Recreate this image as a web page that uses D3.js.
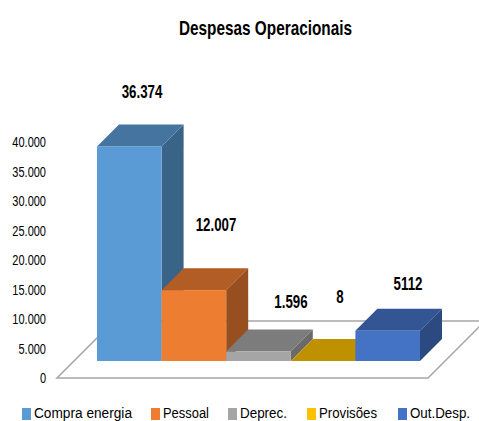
<!DOCTYPE html>
<html>
<head>
<meta charset="utf-8">
<script src="https://cdn.jsdelivr.net/npm/d3@7"></script>
<style>
    html, body { margin: 0; padding: 0; background: #fff; overflow: hidden; }
    svg { display: block; }
    text { font-family: "Liberation Sans", "Open Sans", sans-serif; fill: #000; }
</style>
</head>
<body>
<div id="chart"></div>
<script>
var categories = ['Compra energia', 'Pessoal', 'Deprec.', 'Provisões', 'Out.Desp.'];
var values = [36374, 12007, 1596, 8, 5112];
var valueLabels = ['36.374', '12.007', '1.596', '8', '5112'];
var yTicks = [0, 5000, 10000, 15000, 20000, 25000, 30000, 35000, 40000];
var frontColors = ['#5b9bd5', '#ed7d31', '#a5a5a5', '#ffc000', '#4472c4'];
var topColors = ['#44749f', '#b15d25', '#7c7c7c', '#bf9000', '#335593'];
var sideColors = ['#3a6388', '#974f1f', '#6a6a6a', '#a37b00', '#2b4a80'];

var width = 479;
var height = 421;
var depth = 22;       // 3d offset of the bars
var floorDrop = 16;   // floor front edge sits below the bar bases
var squeeze = 0.76;   // the original font is a lot narrower than what is installed

var svg = d3.select('#chart')
    .append('svg')
    .attr('width', width)
    .attr('height', height);

var x = d3.scaleBand().domain(categories).range([97, 420]);
var y = d3.scaleLinear().domain([0, 40000]).range([361, 125]);

// Title
svg.append('text')
    .text('Despesas Operacionais')
    .attr('x', 179)
    .attr('y', 35)
    .attr('textLength', 173)
    .attr('lengthAdjust', 'spacingAndGlyphs')
    .style('font-size', '20.5px')
    .style('font-weight', 'bold');

// Floor
var floorFront = y(0) + floorDrop + 1;
var floorBack = floorFront - 57;
svg.append('path')
    .attr('d', d3.line()([[57, floorFront], [428, floorFront], [485, floorBack], [114, floorBack]]) + 'Z')
    .attr('fill', '#fff')
    .attr('stroke', '#a6a6a6')
    .attr('stroke-width', 1.5);

// Axis
var axis = svg.append('g')
    .attr('transform', 'translate(46,' + (floorDrop + 1) + ')')
    .call(d3.axisLeft(y)
        .tickValues(yTicks)
        .tickSize(0)
        .tickPadding(0)
        .tickFormat((d) => d3.format(',')(d).replace(/,/g, '.')));
axis.select('.domain').remove();
axis.selectAll('text')
    .attr('transform', 'scale(' + squeeze + ',1)')
    .style('font-family', '"Liberation Sans", sans-serif')
    .style('font-size', '14.5px');

// Bars, left to right so each one covers the side of the previous
var bars = svg.selectAll('.bar')
    .data(categories)
    .enter()
    .append('g')
    .attr('class', 'bar');

bars.append('path')
    .attr('d', (d, i) => {
        var x1 = x(d) + x.bandwidth();
        return d3.line()([[x1, y(values[i])], [x1 + depth, y(values[i]) - depth], [x1 + depth, y(0) - depth], [x1, y(0)]]) + 'Z';
    })
    .attr('fill', (d, i) => sideColors[i]);

bars.append('path')
    .attr('d', (d, i) => {
        var x0 = x(d);
        var x1 = x0 + x.bandwidth();
        var t = y(values[i]);
        return d3.line()([[x0, t], [x1, t], [x1 + depth, t - depth], [x0 + depth, t - depth]]) + 'Z';
    })
    .attr('fill', (d, i) => topColors[i]);

bars.append('rect')
    .attr('x', (d) => x(d))
    .attr('y', (d, i) => y(values[i]))
    .attr('width', x.bandwidth())
    .attr('height', (d, i) => y(0) - y(values[i]))
    .attr('fill', (d, i) => frontColors[i]);

// Data labels, placed by hand in the original chart
var labelX = [142, 216, 291, 340, 408];
var labelY = [98, 231, 308, 303, 290];
svg.selectAll('.valueLabel')
    .data(valueLabels)
    .enter()
    .append('text')
    .attr('class', 'valueLabel')
    .text((d) => d)
    .attr('transform', (d, i) => 'translate(' + labelX[i] + ',' + labelY[i] + ') scale(' + squeeze + ',1)')
    .attr('text-anchor', 'middle')
    .style('font-size', '17.5px')
    .style('font-weight', 'bold');

// Legend
var legendSquareX = [22, 151, 228, 307, 398];
var legendTextLength = [98, 46, 47, 58, 60];
var legend = svg.selectAll('.legendItem')
    .data(categories)
    .enter()
    .append('g')
    .attr('class', 'legendItem')
    .attr('transform', (d, i) => 'translate(' + legendSquareX[i] + ',408)');

legend.append('rect')
    .attr('width', 9)
    .attr('height', 12)
    .attr('fill', (d, i) => frontColors[i]);

legend.append('text')
    .text((d) => d)
    .attr('x', 12)
    .attr('y', 9.7)
    .attr('textLength', (d, i) => legendTextLength[i])
    .attr('lengthAdjust', 'spacingAndGlyphs')
    .style('font-size', '15.5px');
</script>
</body>
</html>
